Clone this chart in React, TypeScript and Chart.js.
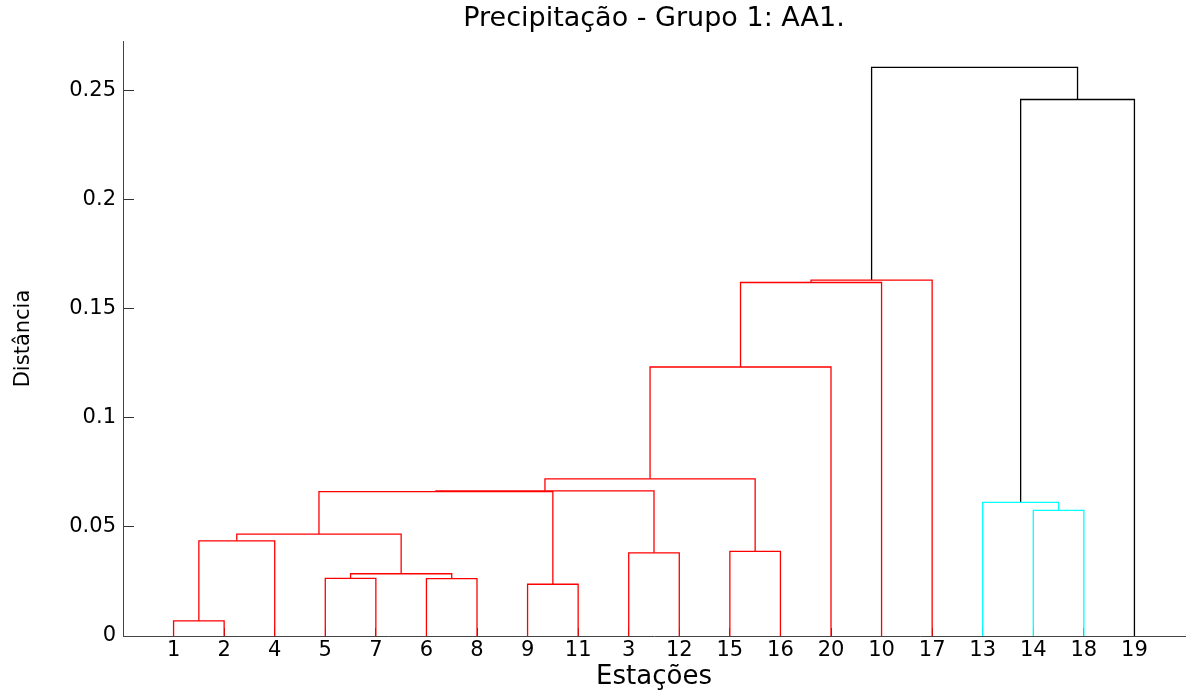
import React, { useEffect, useRef } from 'react';
import { Chart, registerables } from 'chart.js';

Chart.register(...registerables);

const titleText = 'Precipitação - Grupo 1: AA1.';
const xAxisTitle = 'Estações';
const yAxisTitle = 'Distância';

// leaves, drawn left to right
const stationOrder = [1, 2, 4, 5, 7, 6, 8, 9, 11, 3, 12, 15, 16, 20, 10, 17, 13, 14, 18, 19];

// linkage rows: ids 1..20 are stations, row k creates cluster id 20 + k (1-based)
const linkLeft = [1, 9, 6, 5, 24, 3, 15, 21, 28, 14, 13, 29, 32, 33, 34, 35, 36, 31, 37];
const linkRight = [2, 11, 8, 7, 23, 12, 16, 4, 25, 18, 30, 22, 26, 27, 20, 10, 17, 19, 38];
const linkHeight = [
  0.0069, 0.0237, 0.0263, 0.0264, 0.0285, 0.0381, 0.0388, 0.0436, 0.0467, 0.0575,
  0.0612, 0.0661, 0.0665, 0.072, 0.1232, 0.1619, 0.163, 0.2457, 0.2604,
];
const linkGroup = ['r', 'r', 'r', 'r', 'r', 'r', 'r', 'r', 'r', 'c', 'c', 'r', 'r', 'r', 'r', 'r', 'r', 'k', 'k'];
const groupColor: Record<string, string> = { r: '#ff0000', c: '#00ffff', k: '#000000' };

const yTicks = [0, 0.05, 0.1, 0.15, 0.2, 0.25];
const yTickLabels = ['0', '0.05', '0.1', '0.15', '0.2', '0.25'];
const yMax = 0.2725;
const xMin = 0;
const xMax = 21;

function buildLinks() {
  const n = stationOrder.length;
  const nodeX = new Map<number, number>();
  const nodeY = new Map<number, number>();
  stationOrder.forEach((s, i) => {
    nodeX.set(s, i + 1);
    nodeY.set(s, 0);
  });
  return linkLeft.map((l, k) => {
    const r = linkRight[k];
    const h = linkHeight[k];
    const xl = nodeX.get(l) as number;
    const xr = nodeX.get(r) as number;
    nodeX.set(n + k + 1, (xl + xr) / 2);
    nodeY.set(n + k + 1, h);
    return [
      { x: xl, y: nodeY.get(l) as number },
      { x: xl, y: h },
      { x: xr, y: h },
      { x: xr, y: nodeY.get(r) as number },
    ];
  });
}

const FONT = 'DejaVu Sans';

export default function App() {
  const ref = useRef<HTMLCanvasElement | null>(null);

  useEffect(() => {
    if (!ref.current) return;
    const links = buildLinks();
    const chart = new Chart(ref.current, {
      type: 'scatter',
      data: {
        datasets: links.map((pts, k) => ({
          data: pts,
          showLine: true,
          borderColor: groupColor[linkGroup[k]],
          backgroundColor: groupColor[linkGroup[k]],
          borderWidth: 1.3,
          pointRadius: 0,
          pointHoverRadius: 0,
          tension: 0,
        })),
      },
      options: {
        responsive: false,
        animation: false,
        events: [],
        layout: { padding: { left: 0, right: 3, top: 0, bottom: 0 } },
        plugins: {
          legend: { display: false },
          tooltip: { enabled: false },
          title: {
            display: true,
            text: titleText,
            fullSize: false,
            color: '#000',
            font: { family: FONT, size: 27, weight: 'normal' },
            padding: { top: 3, bottom: 5.6 },
          },
        },
        scales: {
          x: {
            type: 'linear',
            min: xMin,
            max: xMax,
            afterBuildTicks: (s: any) => {
              s.ticks = stationOrder.map((_, i) => ({ value: i + 1 }));
            },
            afterFit: (s: any) => {
              s.height = 57;
            },
            ticks: {
              autoSkip: false,
              maxRotation: 0,
              padding: 10,
              color: '#000',
              font: { family: FONT, size: 21 },
              callback: (_v: any, i: number) => String(stationOrder[i]),
            },
            grid: { drawOnChartArea: false, drawTicks: true, tickLength: -8, color: '#333' },
            border: { display: true, color: '#444', width: 1 },
            title: {
              display: true,
              text: xAxisTitle,
              color: '#000',
              font: { family: FONT, size: 26 },
              padding: { top: 0, bottom: 0 },
            },
          },
          y: {
            type: 'linear',
            min: 0,
            max: yMax,
            afterBuildTicks: (s: any) => {
              s.ticks = yTicks.map((v) => ({ value: v }));
            },
            afterFit: (s: any) => {
              s.width = 123;
            },
            ticks: {
              padding: 18,
              color: '#000',
              font: { family: FONT, size: 21 },
              callback: (_v: any, i: number) => yTickLabels[i],
            },
            grid: { drawOnChartArea: false, drawTicks: true, tickLength: -11, color: '#333' },
            border: { display: true, color: '#444', width: 1 },
            title: {
              display: true,
              text: yAxisTitle,
              color: '#000',
              font: { family: FONT, size: 21 },
              padding: { top: 11.4, bottom: 0 },
            },
          },
        },
      },
    } as any);
    return () => chart.destroy();
  }, []);

  return (
    <div style={{ position: 'fixed', left: 0, top: 0, width: 1188, height: 693, background: '#fff' }}>
      <canvas ref={ref} width={1188} height={693} style={{ display: 'block' }} />
    </div>
  );
}
